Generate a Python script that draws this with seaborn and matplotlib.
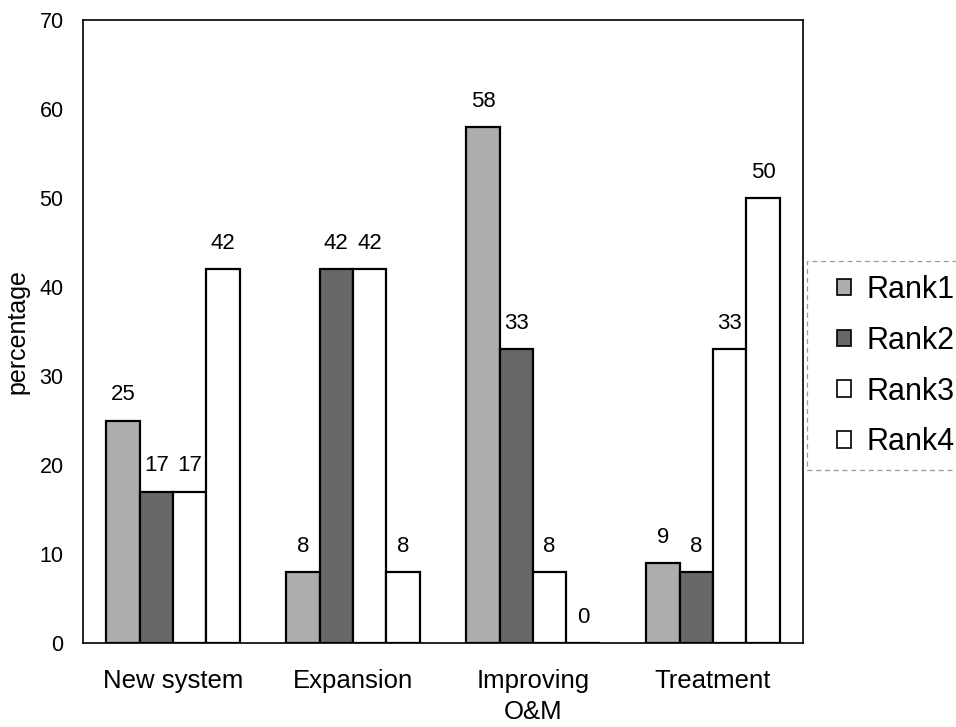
import matplotlib
matplotlib.use("Agg")
import matplotlib.pyplot as plt
from matplotlib.patches import Rectangle
import seaborn as sns
import pandas as pd

categories = ["New system", "Expansion", "Improving\nO&M", "Treatment"]
ranks = ["Rank1", "Rank2", "Rank3", "Rank4"]
rank1 = [25, 8, 58, 9]
rank2 = [17, 42, 33, 8]
rank3 = [17, 42, 8, 33]
rank4 = [42, 8, 0, 50]
yticks = [0, 10, 20, 30, 40, 50, 60, 70]

rows = []
for r, vals in zip(ranks, [rank1, rank2, rank3, rank4]):
    for c, v in zip(categories, vals):
        rows.append({"category": c, "rank": r, "value": v})
df = pd.DataFrame(rows)

sns.set_style("white")
plt.rcParams["font.family"] = ["Liberation Sans", "DejaVu Sans"]
plt.rcParams["text.color"] = "black"
plt.rcParams["xtick.color"] = "black"
plt.rcParams["ytick.color"] = "black"
plt.rcParams["axes.labelcolor"] = "black"

fig = plt.figure(figsize=(9.56, 7.27), dpi=100)
ax = fig.add_axes([0.0868, 0.1155, 0.7532, 0.857])

palette = {"Rank1": "#adadad", "Rank2": "#686868", "Rank3": "#ffffff", "Rank4": "#ffffff"}
sns.barplot(data=df, x="category", y="value", hue="rank", order=categories,
            hue_order=ranks, palette=palette, width=0.74, edgecolor="black",
            linewidth=1.6, saturation=1, ax=ax, errorbar=None)

for cont in ax.containers:
    labels = [f"{int(round(b.get_height()))}" for b in cont]
    ax.bar_label(cont, labels=labels, padding=11, fontsize=16, color="black")

ax.set_xlim(-0.5, 3.5)
ax.set_ylim(0, 70)
ax.set_yticks(yticks)
ax.set_yticklabels([str(t) for t in yticks], fontsize=15.5)
ax.tick_params(axis="both", length=0)
ax.tick_params(axis="y", pad=14)
ax.tick_params(axis="x", labelsize=18.5, pad=19)
for t in ax.get_xticklabels():
    t.set_linespacing(1.35)
ax.set_xlabel("")
ax.set_ylabel("percentage", fontsize=18, labelpad=7)

for s in ax.spines.values():
    s.set_visible(True)
    s.set_color("black")
    s.set_linewidth(1.2)

handles, labels = ax.get_legend_handles_labels()
if ax.get_legend():
    ax.get_legend().remove()
leg = fig.legend(handles, labels, loc="upper left",
                 bbox_to_anchor=(837 / 956, 1 - 275 / 727),
                 fontsize=22, frameon=False, handlelength=0.45, handleheight=0.45,
                 handletextpad=0.5, labelspacing=0.68, borderpad=0,
                 borderaxespad=0)
for h in leg.legend_handles:
    h.set_linewidth(1.2)

box = Rectangle((807 / 956, 1 - 470 / 727), 0.3, (470 - 261) / 727,
                transform=fig.transFigure, fill=False, edgecolor="#9a9a9a",
                linewidth=0.9, linestyle=(0, (4, 3)), clip_on=False)
fig.add_artist(box)

fig.savefig("out.png", dpi=100)
